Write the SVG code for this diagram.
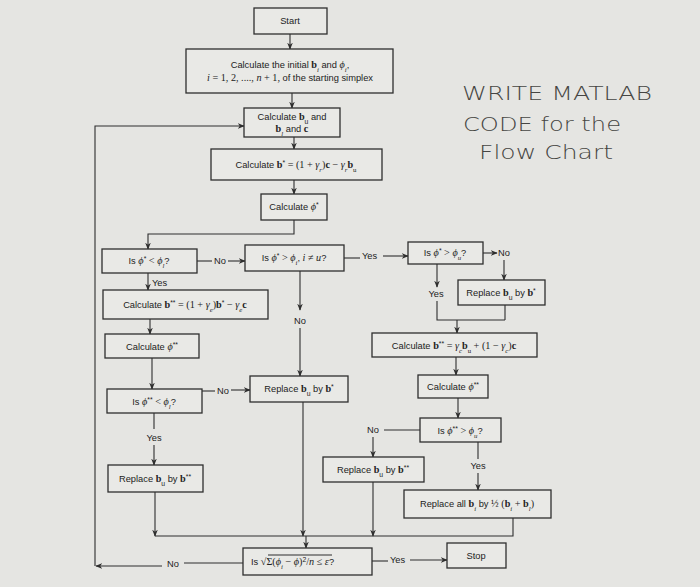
<svg xmlns="http://www.w3.org/2000/svg" width="700" height="587" viewBox="0 0 700 587">
<style>
.bg{fill:#e5e5e2}
.box{fill:#e9e9e6;stroke:#2e2e2e;stroke-width:1.3}
.ln{fill:none;stroke:#2e2e2e;stroke-width:1.1}
.t{font-family:"Liberation Sans",Arial,sans-serif;font-size:9.3px;fill:#222}
.c{text-anchor:middle}
.m{font-family:"Liberation Serif","Times New Roman",serif;font-size:10.2px}
.i{font-family:"Liberation Serif","Times New Roman",serif;font-style:italic;font-size:10.2px}
.b{font-family:"Liberation Serif","Times New Roman",serif;font-weight:bold;font-size:10.2px}
.sub{font-size:6.8px;baseline-shift:sub}
.sup{font-size:6.8px;baseline-shift:super}
.hw{font-family:"DejaVu Sans",sans-serif;font-size:19px;fill:#454543;font-weight:300}
</style>
<defs>
<marker id="ah" viewBox="0 0 10 10" refX="9" refY="5" markerWidth="7" markerHeight="7" markerUnits="userSpaceOnUse" orient="auto">
<path d="M0,1 L10,5 L0,9 L3,5 Z" fill="#2e2e2e"/>
</marker>
</defs>
<rect class="bg" x="0" y="0" width="700" height="587"/>

<g id="connectors">
<path class="ln" marker-end="url(#ah)" d="M290,34 V49"/>
<path class="ln" marker-end="url(#ah)" d="M292,93 V108"/>
<path class="ln" marker-end="url(#ah)" d="M294,137 V149"/>
<path class="ln" marker-end="url(#ah)" d="M294,180 V194"/>
<path class="ln" marker-end="url(#ah)" d="M294,220 V234 H148 V249"/>
<path class="ln" d="M197,261 H212"/>
<text class="t" x="214" y="264">No</text>
<path class="ln" marker-end="url(#ah)" d="M228,261 H245"/>
<path class="ln" d="M344,258 H360"/>
<text class="t" x="362" y="259">Yes</text>
<path class="ln" marker-end="url(#ah)" d="M383,256 H408"/>
<path class="ln" marker-end="url(#ah)" d="M483,253 H497"/>
<text class="t" x="498" y="256">No</text>
<path class="ln" marker-end="url(#ah)" d="M504,260 V280"/>
<path class="ln" marker-end="url(#ah)" d="M437,264 V287"/>
<text class="t c" x="436" y="297">Yes</text>
<path class="ln" d="M437,301 V320 H505 M505,305 V320"/>
<path class="ln" marker-end="url(#ah)" d="M457,320 V333"/>
<path class="ln" marker-end="url(#ah)" d="M300,271 V310"/>
<text class="t c" x="300" y="324">No</text>
<path class="ln" marker-end="url(#ah)" d="M300,328 V376"/>
<path class="ln" marker-end="url(#ah)" d="M148,273 V290"/>
<text class="t" x="152" y="286">Yes</text>
<path class="ln" marker-end="url(#ah)" d="M150,319 V334"/>
<path class="ln" marker-end="url(#ah)" d="M152,358 V389"/>
<path class="ln" d="M202,391 H215"/>
<text class="t" x="217" y="394">No</text>
<path class="ln" marker-end="url(#ah)" d="M231,390 H250"/>
<path class="ln" d="M154,413 V429"/>
<text class="t c" x="154" y="441">Yes</text>
<path class="ln" marker-end="url(#ah)" d="M154,445 V465"/>
<path class="ln" marker-end="url(#ah)" d="M155,492 V536"/>
<path class="ln" d="M155,536 H513 V518"/>
<path class="ln" marker-end="url(#ah)" d="M303,402 V536"/>
<path class="ln" marker-end="url(#ah)" d="M306,536 V548"/>
<path class="ln" marker-end="url(#ah)" d="M373,482 V536"/>
<path class="ln" marker-end="url(#ah)" d="M456,357 V375"/>
<path class="ln" marker-end="url(#ah)" d="M458,398 V418"/>
<path class="ln" d="M420,430 H384"/>
<text class="t c" x="373" y="433">No</text>
<path class="ln" marker-end="url(#ah)" d="M373,437 V457"/>
<path class="ln" d="M478,442 V459"/>
<text class="t c" x="478" y="469">Yes</text>
<path class="ln" marker-end="url(#ah)" d="M478,473 V490"/>
<path class="ln" d="M372,561 H388"/>
<text class="t" x="390" y="563">Yes</text>
<path class="ln" marker-end="url(#ah)" d="M410,560 H447"/>
<path class="ln" d="M243,563 H184"/>
<text class="t c" x="173" y="567">No</text>
<path class="ln" marker-end="url(#ah)" d="M162,566 H96"/>
<path class="ln" marker-end="url(#ah)" d="M95,566 V126 H244"/>
</g>

<g id="start"><rect class="box" x="254" y="8" width="73" height="26"/><text class="t c" x="290" y="24">Start</text></g>
<g id="init"><rect class="box" x="186" y="49" width="207" height="44"/>
<text class="t c" x="290" y="68">Calculate the initial <tspan class="b">b</tspan><tspan class="sub i">i</tspan> and <tspan class="i">ϕ<tspan class="sub">i</tspan></tspan>,</text>
<text class="t c" x="290" y="81"><tspan class="m"><tspan class="i">i</tspan> = 1, 2, ...., <tspan class="i">n</tspan> + 1,</tspan> of the starting simplex</text></g>
<g id="calc-bu"><rect class="box" x="244" y="108" width="96" height="29"/>
<text class="t c" x="292" y="120">Calculate <tspan class="b">b</tspan><tspan class="sub">u</tspan> and</text>
<text class="t c" x="292" y="132"><tspan class="b">b</tspan><tspan class="sub i">l</tspan> and <tspan class="b">c</tspan></text></g>
<g id="calc-bstar"><rect class="box" x="211" y="149" width="171" height="31"/>
<text class="t c" x="296" y="168">Calculate <tspan class="b">b</tspan><tspan class="sup">*</tspan><tspan class="m"> = (1 + <tspan class="i">γ</tspan><tspan class="sub i">r</tspan>)<tspan class="b">c</tspan> − <tspan class="i">γ</tspan><tspan class="sub i">r</tspan><tspan class="b">b</tspan><tspan class="sub">u</tspan></tspan></text></g>
<g id="calc-phistar"><rect class="box" x="261" y="194" width="66" height="26"/>
<text class="t c" x="294" y="210">Calculate <tspan class="i">ϕ</tspan><tspan class="sup">*</tspan></text></g>
<g id="q1"><rect class="box" x="102" y="249" width="95" height="24"/>
<text class="t c" x="149" y="264">Is <tspan class="i">ϕ</tspan><tspan class="sup">*</tspan><tspan class="m"> &lt; </tspan><tspan class="i">ϕ<tspan class="sub">l</tspan></tspan>?</text></g>
<g id="q2"><rect class="box" x="245" y="245" width="99" height="26"/>
<text class="t c" x="294" y="261">Is <tspan class="i">ϕ</tspan><tspan class="sup">*</tspan><tspan class="m"> &gt; </tspan><tspan class="i">ϕ<tspan class="sub">i</tspan></tspan>, <tspan class="i">i</tspan><tspan class="m"> ≠ </tspan><tspan class="i">u</tspan>?</text></g>
<g id="q3"><rect class="box" x="408" y="242" width="75" height="22"/>
<text class="t c" x="445" y="256">Is <tspan class="i">ϕ</tspan><tspan class="sup">*</tspan><tspan class="m"> &gt; </tspan><tspan class="i">ϕ<tspan class="sub">u</tspan></tspan>?</text></g>
<g id="rep-bstar-r"><rect class="box" x="458" y="280" width="87" height="25"/>
<text class="t c" x="501" y="296">Replace <tspan class="b">b</tspan><tspan class="sub">u</tspan> by <tspan class="b">b</tspan><tspan class="sup">*</tspan></text></g>
<g id="calc-bexp"><rect class="box" x="103" y="290" width="165" height="29"/>
<text class="t c" x="185" y="308">Calculate <tspan class="b">b</tspan><tspan class="sup">**</tspan><tspan class="m"> = (1 + <tspan class="i">γ</tspan><tspan class="sub i">e</tspan>)<tspan class="b">b</tspan></tspan><tspan class="sup">*</tspan><tspan class="m"> − <tspan class="i">γ</tspan><tspan class="sub i">e</tspan><tspan class="b">c</tspan></tspan></text></g>
<g id="calc-phi2-l"><rect class="box" x="105" y="334" width="94" height="24"/>
<text class="t c" x="152" y="350">Calculate <tspan class="i">ϕ</tspan><tspan class="sup">**</tspan></text></g>
<g id="calc-bcon"><rect class="box" x="372" y="333" width="165" height="24"/>
<text class="t c" x="454" y="349">Calculate <tspan class="b">b</tspan><tspan class="sup">**</tspan><tspan class="m"> = <tspan class="i">γ</tspan><tspan class="sub i">c</tspan><tspan class="b">b</tspan><tspan class="sub">u</tspan> + (1 − <tspan class="i">γ</tspan><tspan class="sub i">c</tspan>)<tspan class="b">c</tspan></tspan></text></g>
<g id="calc-phi2-r"><rect class="box" x="418" y="375" width="70" height="23"/>
<text class="t c" x="453" y="390">Calculate <tspan class="i">ϕ</tspan><tspan class="sup">**</tspan></text></g>
<g id="rep-bstar-m"><rect class="box" x="250" y="376" width="98" height="26"/>
<text class="t c" x="299" y="392">Replace <tspan class="b">b</tspan><tspan class="sub">u</tspan> by <tspan class="b">b</tspan><tspan class="sup">*</tspan></text></g>
<g id="q4"><rect class="box" x="107" y="389" width="95" height="24"/>
<text class="t c" x="154" y="405">Is <tspan class="i">ϕ</tspan><tspan class="sup">**</tspan><tspan class="m"> &lt; </tspan><tspan class="i">ϕ<tspan class="sub">l</tspan></tspan>?</text></g>
<g id="q5"><rect class="box" x="420" y="418" width="81" height="24"/>
<text class="t c" x="460" y="434">Is <tspan class="i">ϕ</tspan><tspan class="sup">**</tspan><tspan class="m"> &gt; </tspan><tspan class="i">ϕ<tspan class="sub">u</tspan></tspan>?</text></g>
<g id="rep-b2-m"><rect class="box" x="323" y="457" width="101" height="25"/>
<text class="t c" x="373" y="473">Replace <tspan class="b">b</tspan><tspan class="sub">u</tspan> by <tspan class="b">b</tspan><tspan class="sup">**</tspan></text></g>
<g id="rep-b2-l"><rect class="box" x="108" y="465" width="95" height="27"/>
<text class="t c" x="155" y="482">Replace <tspan class="b">b</tspan><tspan class="sub">u</tspan> by <tspan class="b">b</tspan><tspan class="sup">**</tspan></text></g>
<g id="rep-all"><rect class="box" x="404" y="490" width="147" height="28"/>
<text class="t c" x="477" y="507">Replace all <tspan class="b">b</tspan><tspan class="sub i">i</tspan> by <tspan class="m" font-size="7.5">½</tspan><tspan class="m"> (<tspan class="b">b</tspan><tspan class="sub i">i</tspan> + <tspan class="b">b</tspan><tspan class="sub i">l</tspan>)</tspan></text></g>
<g id="q-conv"><rect class="box" x="243" y="548" width="129" height="27"/>
<text class="t" x="251" y="565">Is <tspan class="m">√</tspan><tspan class="m">Σ(<tspan class="i">ϕ</tspan><tspan class="sub i">i</tspan> − <tspan class="i">ϕ</tspan>)</tspan><tspan class="sup">2</tspan><tspan class="m">/<tspan class="i">n</tspan> ≤ <tspan class="i">ε</tspan></tspan>?</text>
<path class="ln" d="M268,555 H332" stroke-width="0.8"/></g>
<g id="stop"><rect class="box" x="447" y="543" width="59" height="25"/><text class="t c" x="476" y="559">Stop</text></g>

<g id="note">
<text class="hw" x="462" y="100" textLength="190" lengthAdjust="spacingAndGlyphs">WRITE MATLAB</text>
<text class="hw" x="463" y="131" textLength="158" lengthAdjust="spacingAndGlyphs">CODE for the</text>
<text class="hw" x="479" y="159" textLength="134" lengthAdjust="spacingAndGlyphs">Flow Chart</text>
</g>
</svg>
